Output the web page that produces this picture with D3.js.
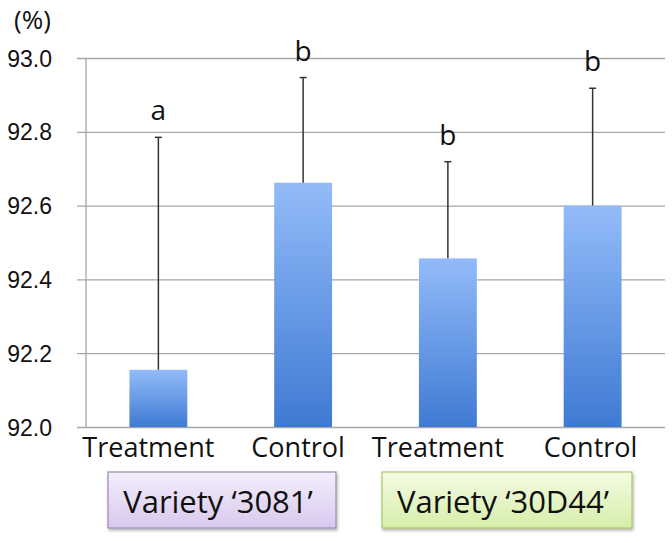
<!DOCTYPE html>
<html>
<head>
<meta charset="utf-8">
<script src="https://cdn.jsdelivr.net/npm/d3@7"></script>
<style>
  html, body { margin: 0; padding: 0; background: #fff; }
  svg { display: block; font-family: "Open Sans", Lato, "Liberation Sans", sans-serif; }
</style>
</head>
<body>
<svg id="chart" width="672" height="543"></svg>
<script>
// ---- data ----
const categories = ["Treatment", "Control", "Treatment", "Control"];
const values = [92.155, 92.662, 92.457, 92.600];
const errorTops = [92.785, 92.947, 92.719, 92.918];
const letters = ["a", "b", "b", "b"];
const yTicks = [92.0, 92.2, 92.4, 92.6, 92.8, 93.0];
const groups = ["Variety \u20183081\u2019", "Variety \u201830D44\u2019"];
const groupColors = [
  { top: "#f4effb", bottom: "#d9c8ee", stroke: "#9d89b9" },
  { top: "#f4fbe4", bottom: "#d6eea9", stroke: "#a9c76c" }
];

const svg = d3.select("#chart");
const margin = { left: 86, right: 7, top: 58, bottom: 116 };
const W = 672, H = 543;

const x = d3.scaleBand().domain(d3.range(categories.length))
  .range([margin.left, W - margin.right]).paddingInner(0.6).paddingOuter(0.3);
const y = d3.scaleLinear().domain([92.0, 93.0]).range([H - margin.bottom, margin.top]);

const defs = svg.append("defs");
const bg = defs.append("linearGradient").attr("id", "barGrad")
  .attr("x1", 0).attr("y1", 0).attr("x2", 0).attr("y2", 1);
bg.append("stop").attr("offset", "0%").attr("stop-color", "#93bbf9");
bg.append("stop").attr("offset", "100%").attr("stop-color", "#3f7ad3");

groupColors.forEach((c, i) => {
  const g = defs.append("linearGradient").attr("id", "grp" + i)
    .attr("x1", 0).attr("y1", 0).attr("x2", 0).attr("y2", 1);
  g.append("stop").attr("offset", "0%").attr("stop-color", c.top);
  g.append("stop").attr("offset", "100%").attr("stop-color", c.bottom);
});
const f = defs.append("filter").attr("id", "shadow").attr("x", "-10%").attr("y", "-10%").attr("width", "130%").attr("height", "140%");
f.append("feDropShadow").attr("dx", 1).attr("dy", 2).attr("stdDeviation", 1.5).attr("flood-color", "#000").attr("flood-opacity", 0.3);

// gridlines
const yAxis = d3.axisLeft(y).tickValues(yTicks).tickSize(-(W - margin.right - margin.left + 9))
  .tickFormat(d3.format(".1f")).tickPadding(25);
const ga = svg.append("g").attr("transform", `translate(${margin.left - 9},0)`).call(yAxis);
ga.select(".domain").remove();
ga.selectAll(".tick line").attr("stroke", "#a6a6a6").attr("stroke-width", 1.3);
ga.selectAll(".tick text").attr("font-size", 23).attr("fill", "#111").attr("dy", "0.35em");

// vertical axis line
svg.append("line").attr("x1", margin.left).attr("x2", margin.left)
  .attr("y1", y(93.0)).attr("y2", y(92.0)).attr("stroke", "#a6a6a6").attr("stroke-width", 1.3);

// bars
svg.selectAll("rect.bar").data(values).join("rect").attr("class", "bar")
  .attr("x", (d, i) => x(i)).attr("width", x.bandwidth())
  .attr("y", d => y(d)).attr("height", d => y(92.0) - y(d))
  .attr("fill", "url(#barGrad)");

// error bars
const cx = i => x(i) + x.bandwidth() / 2;
svg.selectAll("line.err").data(errorTops).join("line").attr("class", "err")
  .attr("x1", (d, i) => cx(i)).attr("x2", (d, i) => cx(i))
  .attr("y1", (d, i) => y(values[i])).attr("y2", d => y(d))
  .attr("stroke", "#333").attr("stroke-width", 1.5);
svg.selectAll("line.cap").data(errorTops).join("line").attr("class", "cap")
  .attr("x1", (d, i) => cx(i) - 3.5).attr("x2", (d, i) => cx(i) + 3.5)
  .attr("y1", d => y(d)).attr("y2", d => y(d))
  .attr("stroke", "#333").attr("stroke-width", 1.5);

// letters
svg.selectAll("text.letter").data(letters).join("text").attr("class", "letter")
  .attr("x", (d, i) => cx(i)).attr("y", (d, i) => y(errorTops[i]) - 17)
  .attr("text-anchor", "middle").attr("font-size", 28).attr("fill", "#111").text(d => d);

// category labels (slightly left of the bar centres, as in the original)
const labelShift = [-10, -5, -10, -2];
svg.selectAll("text.cat").data(categories).join("text").attr("class", "cat")
  .attr("x", (d, i) => cx(i) + labelShift[i]).attr("y", 457)
  .attr("text-anchor", "middle").attr("font-size", 27).attr("fill", "#111").text(d => d);

// (%)
svg.append("text").attr("x", 32.5).attr("y", 29).attr("text-anchor", "middle")
  .attr("font-size", 26).attr("fill", "#111").text("(%)");

// group boxes
const boxes = [
  { x0: 108, x1: 336 },
  { x0: 382, x1: 632 }
];
groups.forEach((g, i) => {
  const b = boxes[i];
  svg.append("rect").attr("x", b.x0).attr("y", 472).attr("width", b.x1 - b.x0).attr("height", 56)
    .attr("fill", `url(#grp${i})`).attr("stroke", groupColors[i].stroke).attr("stroke-width", 1.2)
    .attr("filter", "url(#shadow)");
  svg.append("text").attr("x", (b.x0 + b.x1) / 2 - 4).attr("y", 513).attr("text-anchor", "middle")
    .attr("font-size", 31).attr("fill", "#111").text(g);
});
</script>
</body>
</html>
